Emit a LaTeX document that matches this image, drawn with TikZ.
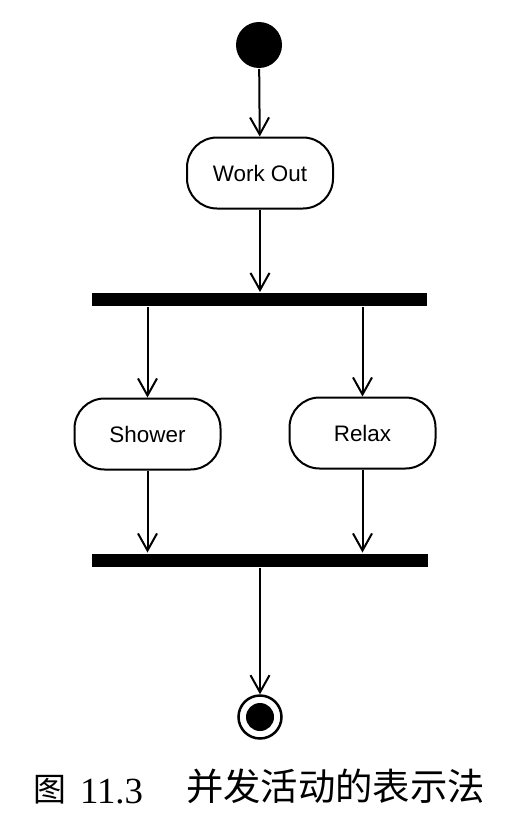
\documentclass[tikz,border=0pt]{standalone}
\usepackage{fontspec}
\setmainfont{Liberation Sans}
\newfontfamily\cjk{Noto Sans CJK SC}
\newfontfamily\capserif{Liberation Serif}
\usetikzlibrary{arrows.meta}
\begin{document}
\begin{tikzpicture}[x=1bp, y=-1bp, line width=2bp,
    activity/.style={draw, rounded corners=30bp, minimum width=146bp, minimum height=71bp, font=\fontsize{22.5}{26}\selectfont},
    syncbar/.style={fill=black, minimum width=335bp, minimum height=13bp, inner sep=0pt},
    flow/.style={-{Straight Barb[length=17bp, width=19bp, line width=2bp]}}]
          \useasboundingbox (0,0) rectangle (508,820);
          \node[circle, fill=black, minimum size=46bp, inner sep=0pt] (start) at (259, 45) {};
          \node[activity] (workout) at (260, 173) {Work Out};
          \node[syncbar] (fork) at (259.5, 299.5) {};
          \node[activity] (shower) at (147.5, 434) {Shower};
          \node[activity] (relax) at (362.5, 433) {Relax};
          \node[syncbar] (join) at (260, 560) {};
          \node[circle, draw, line width=2.5bp, minimum size=43bp, inner sep=0pt] (end) at (260, 717) {};
          \node[circle, fill=black, minimum size=28bp, inner sep=0pt] (endcore) at (end.center) {};
          \draw[flow] (start) -- (workout);
          \draw[flow] (workout) -- (workout |- fork.north);
          \draw[flow] (shower |- fork.south) -- (shower);
          \draw[flow] (relax |- fork.south) -- (relax);
          \draw[flow] (shower) -- (shower |- join.north);
          \draw[flow] (relax) -- (relax |- join.north);
          \draw[flow] (join) -- (end);
          % caption
          \node[anchor=base west, font=\fontsize{33}{36}\selectfont\cjk, inner sep=0pt] (figmark) at (32, 801) {图};
          \node[anchor=base west, font=\fontsize{37}{40}\selectfont\capserif, inner sep=0pt] (figno) at (79, 803) {11.3};
          \node[anchor=base west, font=\fontsize{37.5}{40}\selectfont\cjk, inner sep=0pt] (figtitle) at (185, 800) {并发活动的表示法};
        \end{tikzpicture}
\end{document}
